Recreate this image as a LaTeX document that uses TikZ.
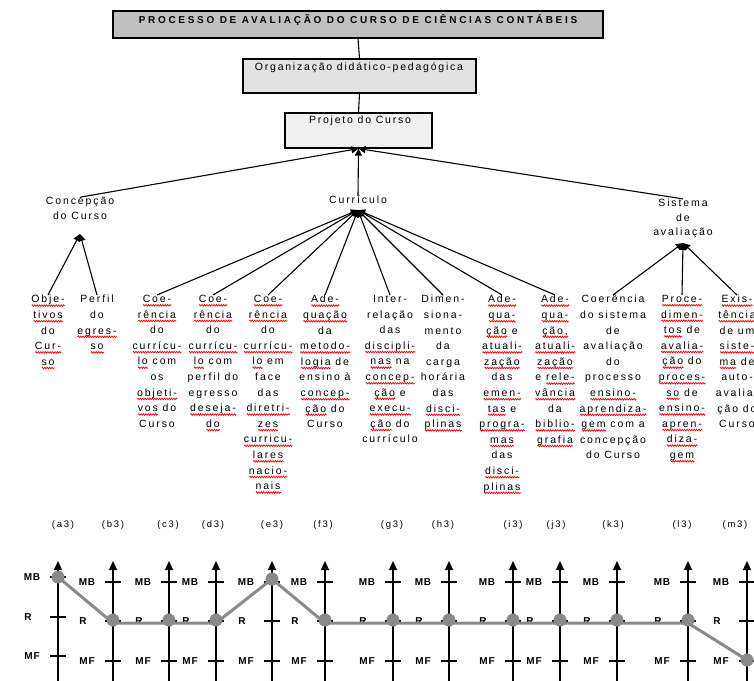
\documentclass[tikz,border=0pt]{standalone}
\usepackage{fontspec}
\setmainfont{Liberation Sans}
\newfontfamily\colfont[LetterSpace=18]{Liberation Sans}
\newfontfamily\ttlfont[LetterSpace=27]{Liberation Sans}
\newfontfamily\boxfont[LetterSpace=17]{Liberation Sans}
\newfontfamily\axfont[LetterSpace=18]{Liberation Sans}
\newfontfamily\mbfont[LetterSpace=8]{Liberation Sans}
\usetikzlibrary{arrows.meta,decorations.pathmorphing}
\newsavebox\rwbox
\newcommand\rw[1]{\sbox\rwbox{#1}\rlap{\tikz[x=1pt,y=1pt,baseline=0pt]{\path (0,0);\draw[red,line width=0.7pt,decorate,decoration={zigzag,amplitude=0.8pt,segment length=2.4pt}] (0,-2.8) -- (\the\wd\rwbox,-2.8);}}\usebox\rwbox}
\definecolor{boxA}{HTML}{C0C0C0}
\definecolor{boxB}{HTML}{E2E2E2}
\definecolor{boxC}{HTML}{F0F0F0}
\definecolor{dgray}{HTML}{8A8A8A}
\tikzset{
  boxn/.style={draw, line width=1.2pt, inner sep=0pt},
  lbl/.style={font=\colfont\fontsize{10.5}{14.5}\selectfont, align=center, inner sep=0pt},
  colt/.style={font=\colfont\fontsize{10.5}{15.6}\selectfont, align=center, inner sep=0pt, anchor=north},
  arr/.style={-{Triangle[length=7pt,width=7pt]}, line width=1.1pt},
  plain/.style={line width=1.1pt},
  axis/.style={line width=1.3pt},
  axarr/.style={line width=1.3pt, -{Triangle[length=9pt,width=8pt]}},
  axl/.style={font=\mbfont\bfseries\fontsize{10}{11}\selectfont, inner sep=0pt},
  hdl/.style={font=\axfont\fontsize{9.5}{10}\selectfont, inner sep=0pt},
  dline/.style={draw=dgray, line width=3pt, line join=round},
  dpt/.style={fill=dgray}
}
\begin{document}
\begin{tikzpicture}[x=1pt,y=-1pt]
\useasboundingbox (0,0) rectangle (754,680);

% top boxes
\node[boxn, fill=boxA, minimum width=490pt, minimum height=27pt] (b1) at (358,24.5) {};
\node[font=\ttlfont\bfseries\fontsize{10}{11}\selectfont, inner sep=0pt] (t1) at (358,20) {PROCESSO DE AVALIAÇÃO DO CURSO DE CIÊNCIAS CONTÁBEIS};
\node[boxn, fill=boxB, minimum width=233pt, minimum height=34pt] (b2) at (359.5,76) {};
\node[font=\boxfont\fontsize{10.5}{11}\selectfont, inner sep=0pt] (t2) at (359,68) {Organização didático-pedagógica};
\node[boxn, fill=boxC, minimum width=147pt, minimum height=35pt] (b3) at (358.5,130.5) {};
\node[font=\boxfont\fontsize{10.5}{11}\selectfont, inner sep=0pt] (t3) at (360,121) {Projeto do Curso};
\draw[plain] (b1.south) -- (b2.north);
\draw[plain] (b2.south) -- (b3.north);

% second level
\node[lbl] (conc) at (80,208.5) {Concepção\\do Curso};
\node[lbl] (cur) at (358,200) {Currículo};
\node[lbl] (sis) at (683,218.5) {Sistema\\de\\avaliação};
\draw[arr] (cur.north) -- (b3.south);
\draw[arr] (conc.north) -- (b3.south);
\draw[arr] (sis.north) -- (b3.south);
\coordinate (concA) at (80,234);
\coordinate (curA) at (358,210);
\coordinate (sisA) at (683,243);

% columns
\node[colt] (a3) at (48,295) {\rw{Obje-}\\\rw{tivos}\\do\\\rw{Cur-}\\\rw{so}};
\node[colt] (b3c) at (97,295) {Perfil\\do\\\rw{egres-}\\\rw{so}};
\node[colt] (c3) at (157,295) {\rw{Coe-}\\\rw{rência}\\do\\\rw{currícu-}\\\rw{lo} com\\os\\\rw{objeti-}\\\rw{vos} do\\Curso};
\node[colt] (d3) at (213,295) {\rw{Coe-}\\\rw{rência}\\do\\\rw{currícu-}\\\rw{lo} com\\perfil do\\egresso\\\rw{deseja-}\\\rw{do}};
\node[colt] (e3) at (268,295) {\rw{Coe-}\\\rw{rência}\\do\\\rw{currícu-}\\\rw{lo} em\\face\\das\\\rw{diretri-}\\\rw{zes}\\\rw{curricu-}\\\rw{lares}\\\rw{nacio-}\\\rw{nais}};
\node[colt] (f3) at (325,295) {\rw{Ade-}\\\rw{quação}\\da\\\rw{metodo-}\\\rw{logia} de\\ensino à\\\rw{concep-}\\\rw{ção} do\\Curso};
\node[colt] (g3) at (390,295) {Inter-\\relação\\das\\\rw{discipli-}\\\rw{nas} na\\\rw{concep-}\\\rw{ção} e\\\rw{execu-}\\\rw{ção} do\\currículo};
\node[colt] (h3) at (443,295) {Dimen-\\siona-\\mento\\da\\carga\\horária\\das\\\rw{disci-}\\\rw{plinas}};
\node[colt] (i3) at (502,295) {\rw{Ade-}\\\rw{qua-}\\\rw{ção} e\\\rw{atuali-}\\\rw{zação}\\das\\\rw{emen-}\\\rw{tas} e\\\rw{progra-}\\\rw{mas}\\das\\\rw{disci-}\\\rw{plinas}};
\node[colt] (j3) at (555,295) {\rw{Ade-}\\\rw{qua-}\\\rw{ção,}\\\rw{atuali-}\\\rw{zação}\\e \rw{rele-}\\\rw{vância}\\da\\\rw{biblio-}\\\rw{grafia}};
\node[colt] (k3) at (613,295) {Coerência\\do sistema\\de\\avaliação\\do\\processo\\\rw{ensino-}\\\rw{aprendiza-}\\\rw{gem} com a\\concepção\\do Curso};
\node[colt] (l3) at (682,295) {\rw{Proce-}\\\rw{dimen-}\\\rw{tos} de\\\rw{avalia-}\\\rw{ção} do\\\rw{proces-}\\\rw{so} de\\\rw{ensino-}\\\rw{apren-}\\\rw{diza-}\\\rw{gem}};
\node[colt] (m3) at (737,295) {\rw{Exis-}\\\rw{tência}\\de um\\\rw{siste-}\\\rw{ma} de\\auto-\\avalia-\\ção do\\Curso};

\foreach \c in {a3,b3c}{\draw[arr] (\c.north) -- (concA);}
\foreach \c in {c3,d3,e3,f3,g3,h3,i3,j3}{\draw[arr] (\c.north) -- (curA);}
\foreach \c in {k3,l3,m3}{\draw[arr] (\c.north) -- (sisA);}

% chart headings
\foreach \t/\x in {a3/63,b3/113,c3/168,d3/213,e3/272,f3/323,g3/392,h3/443,i3/513,j3/556,k3/613,l3/682,m3/735}{
  \node[hdl] (h\t) at (\x,525) {(\t)};
}
% axes
\foreach \x/\mb/\r/\mf in {58/577/617/656,113/582/621/661,169/582/621/661,216/582/621/661,272/582/621/661,325/582/621/661,393/582/621/661,449/582/621/661,513/582/621/661,560/582/621/661,617/582/621/661,688/582/621/661,747/582/621/661}{
  \draw[axarr] (\x,690) -- (\x,561);
  \draw[axis] (\x-8,\mb) -- (\x+8,\mb);
  \draw[axis] (\x-8,\r) -- (\x+8,\r);
  \draw[axis] (\x-8,\mf) -- (\x+8,\mf);
  \node[axl] at (\x-26,\mb) {MB};
  \node[axl] at (\x-30,\r) {R};
  \node[axl] at (\x-26,\mf) {MF};
}
% data
\draw[dline] (58,577) -- (113,623) -- (169,623) -- (216,623) -- (272,579) -- (325,623) -- (393,623) -- (449,623) -- (513,623) -- (560,623) -- (617,623) -- (688,623) -- (747,660);
\foreach \x/\y in {58/577,113/620,169/620,216/620,272/579,325/620,393/620,449/620,513/620,560/620,617/620,688/620,747/660}{
  \fill[dpt] (\x,\y) circle (6.5pt);
}
\end{tikzpicture}
\end{document}
